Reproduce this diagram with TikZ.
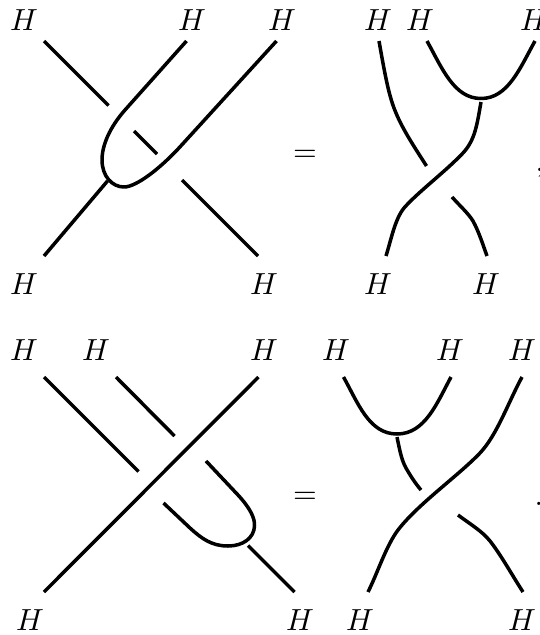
\documentclass[tikz,border=0pt]{standalone}
\tikzset{strand/.style={line width=3.5pt,line cap=butt,line join=round},
lab/.style={inner sep=0pt,scale=3.05}}
\begin{document}
\begin{tikzpicture}[x=1pt,y=-1pt]
\useasboundingbox (0,0) rectangle (539,635);
% labels
\foreach \n/\x/\y/\t in {a/24/20.5/H,b/192/20.5/H,c/282/20.5/H,d/378/20.5/H,e/420/20.5/H,f/534/20.5/H,
g/24/284.5/H,h/264/284.5/H,i/378/284.5/H,j/486/284.5/H,
k/24/350.5/H,l/96/350.5/H,m/264/350.5/H,n/336/350.5/H,o/450/350.5/H,p/522/350.5/H,
q/30/620.5/H,r/300/620.5/H,s/360/620.5/H,t/522/620.5/H}
  \node[lab] (\n) at (\x,\y) {$\t$};
\node[lab] (eq1) at (305,155.5) {$=$};
\node[lab] (eq2) at (305,498) {$=$};
\node[lab,anchor=north west] (com) at (535,168) {$,$};
\node[lab,anchor=south west] (dot) at (534,506) {$.$};
% top left
\draw[strand] (44,41) -- (108.5,105.5);
\draw[strand] (186.5,41) -- (125,110) .. controls (110,127) and (102,145) .. (102,160) .. controls (102,176) and (112,187) .. (124,187) .. controls (136,187) and (160,169) .. (181.7,145) -- (276.5,41);
\draw[strand] (134,131) -- (157,154);
\draw[strand] (182,180) -- (258,256);
\draw[strand] (44,256) -- (107.5,181);
% top right
\draw[strand] (379,41) .. controls (385,75) and (389,97) .. (396,113) .. controls (403,130) and (415,148) .. (426.5,166);
\draw[strand] (427,41) .. controls (442,68) and (454,98.5) .. (481,98.5) .. controls (508,98.5) and (520,68) .. (535,41);
\draw[strand] (481,102) .. controls (477,125) and (475,140) .. (463,153) .. controls (445,172) and (418,192) .. (404,208) .. controls (395,219) and (391,240) .. (386,256);
\draw[strand] (452,197) .. controls (460,206) and (468,213) .. (473,221) .. controls (479,232) and (483,245) .. (487,256);
% bottom left
\draw[strand] (44,377) -- (138.5,471.5);
\draw[strand] (116,377) -- (174.5,436);
\draw[strand] (258.5,377) -- (44,592);
\draw[strand] (206,461) -- (238,495) .. controls (250,508) and (255,518) .. (254.5,526) .. controls (254,538) and (243,546) .. (228,546) .. controls (212,546) and (202,539) .. (190,528) -- (163.5,503);
\draw[strand] (248,545.5) -- (294.5,592);
% bottom right
\draw[strand] (343.5,377) .. controls (358,403) and (369,434) .. (397,434) .. controls (425,434) and (437,403) .. (451,377);
\draw[strand] (397,437) .. controls (400,452) and (402,461) .. (406,468) .. controls (410,475) and (415,483) .. (421,490);
\draw[strand] (522,377) .. controls (508,403) and (497,435) .. (480,453) .. controls (458,476) and (418,504) .. (398,530) .. controls (386,546) and (378,572) .. (368,592);
\draw[strand] (458,515) .. controls (470,524) and (482,531) .. (490,541) .. controls (501,555) and (512,575) .. (523,592);
\end{tikzpicture}
\end{document}
